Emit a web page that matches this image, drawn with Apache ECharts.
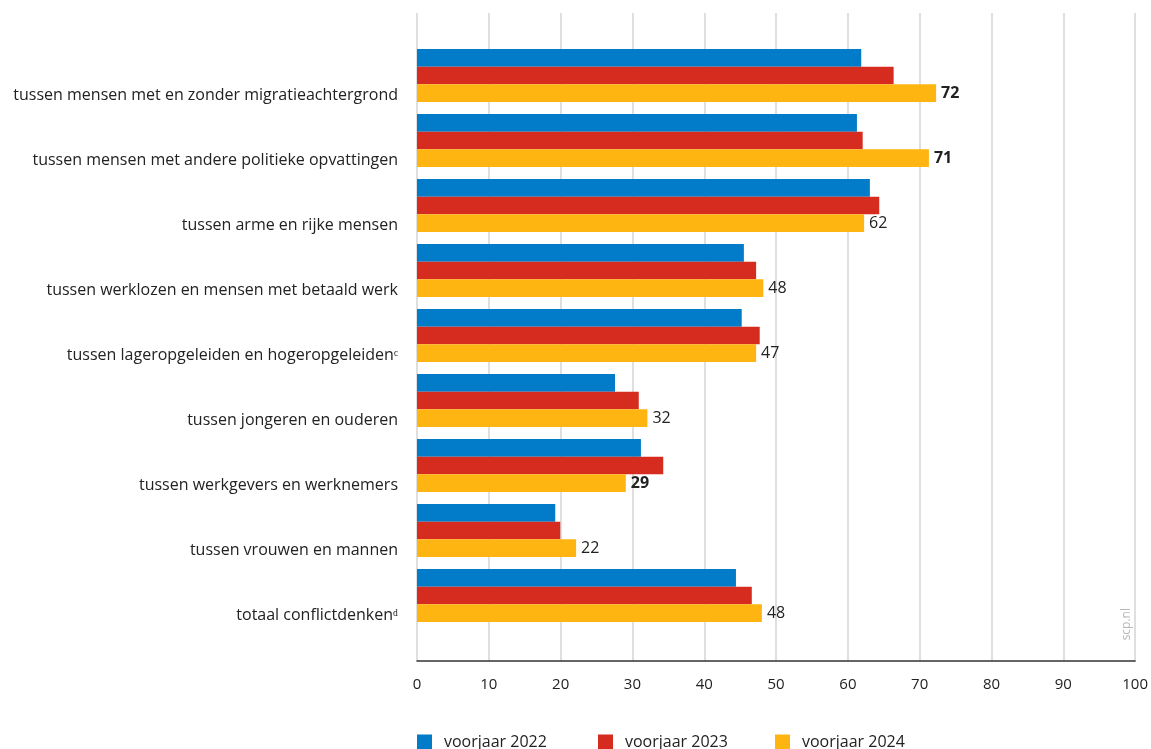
<!DOCTYPE html>
<html><head><meta charset="utf-8">
<script src="https://cdn.jsdelivr.net/npm/echarts@6/dist/echarts.min.js"></script>
<style>html,body{margin:0;padding:0;background:#fff}#c{width:1151px;height:749px}</style>
</head><body><div id="c"></div>
<script>
const categories = [
  'tussen mensen met en zonder migratieachtergrond',
  'tussen mensen met andere politieke opvattingen',
  'tussen arme en rijke mensen',
  'tussen werklozen en mensen met betaald werk',
  'tussen lageropgeleiden en hogeropgeleiden\u1D9C',
  'tussen jongeren en ouderen',
  'tussen werkgevers en werknemers',
  'tussen vrouwen en mannen',
  'totaal conflictdenken\u1D48'
];
const seriesNames = ['voorjaar 2022', 'voorjaar 2023', 'voorjaar 2024'];
const v2022 = [61.7, 61.1, 62.9, 45.4, 45.1, 27.5, 31.1, 19.2, 44.3];
const v2023 = [66.2, 61.9, 64.2, 47.1, 47.6, 30.8, 34.2, 19.9, 46.5];
const v2024 = [72.1, 71.1, 62.1, 48.1, 47.1, 32.0, 29.0, 22.1, 47.9];
const labels2024 = ['72', '71', '62', '48', '47', '32', '29', '22', '48'];
const boldLabels = [true, true, false, false, false, false, true, false, false];
const xTicks = [0, 10, 20, 30, 40, 50, 60, 70, 80, 90, 100];
const colors = ['#027cc8', '#d62b1f', '#ffb511'];

const FONT = 'Open Sans';
const chart = echarts.init(document.getElementById('c'));
const barW = 17.7;
function bar(name, data, color, withLabel) {
  const s = {
    name: name, type: 'bar', xAxisIndex: 1, yAxisIndex: 1,
    data: data, barWidth: barW, barGap: '0%',
    itemStyle: { color: color }, silent: true
  };
  if (withLabel) {
    s.data = data.map((v, i) => ({
      value: v,
      label: { show: true, position: 'right', distance: 5, formatter: labels2024[i],
        color: '#222', fontFamily: FONT, fontSize: 16, fontWeight: boldLabels[i] ? 'bold' : 'normal' }
    }));
  }
  return s;
}
const legendBase = { top: 734, padding: 0, itemWidth: 15, itemHeight: 15, icon: 'rect', itemGap: 0,
  textStyle: { color: '#222', fontFamily: FONT, fontSize: 16, padding: [0, 0, 0, 7] } };
chart.setOption({
  animation: false,
  textStyle: { fontFamily: FONT },
  grid: [
    { left: 417, right: 14, top: 13, bottom: 88 },
    { left: 417, right: 14, top: 43, height: 585 }
  ],
  xAxis: [
    { gridIndex: 0, type: 'value', min: xTicks[0], max: xTicks[xTicks.length - 1], interval: 10,
      axisLine: { show: true, onZero: false, lineStyle: { color: '#333', width: 1.5 } },
      axisTick: { show: false },
      axisLabel: { color: '#222', fontFamily: FONT, fontSize: 15, margin: 16 },
      splitLine: { show: true, lineStyle: { color: '#d4d4d4', width: 1.5 } } },
    { gridIndex: 1, type: 'value', min: xTicks[0], max: xTicks[xTicks.length - 1], show: false,
      splitLine: { show: false } }
  ],
  yAxis: [
    { gridIndex: 0, type: 'value', show: false, splitLine: { show: false } },
    { gridIndex: 1, type: 'category', data: categories, inverse: true,
      axisLine: { show: false }, axisTick: { show: false },
      axisLabel: { color: '#222', fontFamily: FONT, fontSize: 16, margin: 19,
        verticalAlign: 'top', lineHeight: 40 } }
  ],
  legend: [
    Object.assign({ left: 417, data: [seriesNames[0]] }, legendBase),
    Object.assign({ left: 598, data: [seriesNames[1]] }, legendBase),
    Object.assign({ left: 775, data: [seriesNames[2]] }, legendBase)
  ],
  graphic: [
    { type: 'text', left: 1121, top: 608, rotation: Math.PI / 2,
      style: { text: 'scp.nl', fill: '#b8b8b8', font: '12px "Open Sans"' } }
  ],
  series: [
    bar(seriesNames[0], v2022, colors[0], false),
    bar(seriesNames[1], v2023, colors[1], false),
    bar(seriesNames[2], v2024, colors[2], true)
  ]
});
</script></body></html>
